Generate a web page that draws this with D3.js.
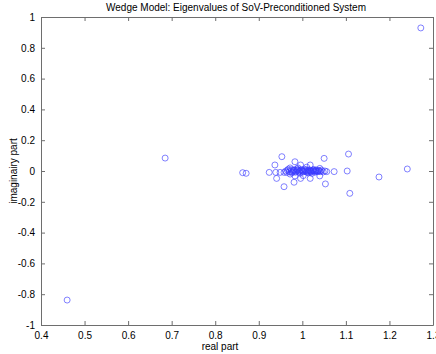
<!DOCTYPE html>
<html>
<head>
<meta charset="utf-8">
<script src="https://cdn.jsdelivr.net/npm/d3@7"></script>
<style>
  body { margin: 0; background: #fff; }
  text { font-family: "Liberation Sans", Arial, sans-serif; }
</style>
</head>
<body>
<div id="chart"></div>
<script>
// Eigenvalues (real, imag)
const realPart = [1.272, 0.460, 0.685, 0.863, 0.871,
  1.106, 1.073, 1.103, 1.176, 1.241, 1.109,
  0.953, 0.937, 0.924, 0.939, 0.949, 0.958, 0.941, 0.958,
  0.983, 0.981, 0.996, 1.018, 0.996, 1.018, 1.050, 1.053,
  1.040, 1.040, 1.056, 0.972, 0.972, 0.983, 1.002, 1.010,
  0.966, 0.970, 0.975, 0.978, 0.982, 0.986, 0.990, 0.993, 0.997,
  1.000, 1.003, 1.006, 1.009, 1.012, 1.015, 1.018, 1.021, 1.024,
  1.027, 1.030, 1.033, 1.036, 1.044, 1.048, 0.968, 0.976, 0.988,
  0.995, 1.005, 1.014, 1.026, 0.962, 1.052, 0.964, 0.990, 1.022,
  0.980, 0.984, 0.988, 0.992, 0.998, 1.002, 1.008, 1.011, 1.016,
  1.020, 1.025, 1.029, 1.032, 1.035, 1.038, 1.042, 0.974, 0.979,
  0.994, 1.001, 1.013, 1.019, 1.031, 1.039];
const imagPart = [0.929, -0.838, 0.084, -0.011, -0.015,
  0.110, -0.004, 0.000, -0.039, 0.013, -0.145,
  0.093, 0.039, -0.009, -0.009, -0.009, -0.009, -0.048, -0.102,
  0.060, -0.073, 0.039, 0.039, -0.048, -0.048, 0.082, -0.084,
  0.017, -0.032, -0.004, 0.020, -0.020, -0.032, -0.030, 0.025,
  0.005, -0.005, 0.008, -0.006, 0.004, -0.004, 0.006, -0.002, 0.003,
  0.000, -0.003, 0.002, -0.004, 0.004, -0.002, 0.001, -0.003, 0.003,
  -0.001, 0.002, -0.002, 0.001, 0.006, -0.006, 0.012, -0.012, 0.014,
  -0.014, 0.012, -0.012, 0.010, 0.000, 0.000, -0.010, 0.020, -0.015,
  0.008, -0.008, 0.006, -0.007, 0.009, -0.006, 0.007, -0.009, 0.008,
  -0.007, 0.006, -0.008, 0.007, -0.005, 0.005, -0.004, -0.003, 0.002,
  0.000, 0.001, -0.001, 0.000, 0.001, -0.001];
const xTicks = [0.4, 0.5, 0.6, 0.7, 0.8, 0.9, 1, 1.1, 1.2, 1.3];
const yTicks = [-1, -0.8, -0.6, -0.4, -0.2, 0, 0.2, 0.4, 0.6, 0.8, 1];

const W = 436, H = 354;
const margin = {top: 17, right: 3, bottom: 29, left: 41};
const width = W - margin.left - margin.right;
const height = H - margin.top - margin.bottom;

const svg = d3.select('#chart').append('svg')
    .attr('width', W)
    .attr('height', H);

const g = svg.append('g')
    .attr('transform', `translate(${margin.left},${margin.top})`);

const x = d3.scaleLinear().domain([0.4, 1.3]).range([0, width]);
const y = d3.scaleLinear().domain([-1, 1]).range([height, 0]);

const axisColor = '#6e6e6e';
const fmt = d => String(+d.toFixed(1));

// Bottom and left axes with inward ticks
const xAxis = g.append('g')
    .attr('transform', `translate(0,${height})`)
    .call(d3.axisBottom(x).tickValues(xTicks).tickFormat(fmt).tickSizeInner(-4).tickSizeOuter(0).tickPadding(7));
const yAxis = g.append('g')
    .call(d3.axisLeft(y).tickValues(yTicks).tickFormat(fmt).tickSizeInner(-4).tickSizeOuter(0).tickPadding(6));
// Top and right ticks (box)
const xTop = g.append('g')
    .call(d3.axisTop(x).tickValues(xTicks).tickFormat('').tickSizeInner(-4).tickSizeOuter(0));
const yRight = g.append('g')
    .attr('transform', `translate(${width},0)`)
    .call(d3.axisRight(y).tickValues(yTicks).tickFormat('').tickSizeInner(-4).tickSizeOuter(0));

[xAxis, yAxis, xTop, yRight].forEach(a => {
    a.selectAll('path, line').attr('stroke', axisColor);
    a.selectAll('text').attr('fill', '#000').style('font-size', '10px');
});

// Points
g.selectAll('circle')
    .data(realPart.map((r, i) => ({re: r, im: imagPart[i]})))
    .enter()
    .append('circle')
    .attr('cx', d => x(d.re))
    .attr('cy', d => y(d.im))
    .attr('r', 3)
    .attr('fill', 'none')
    .attr('stroke', '#3a3aff')
    .attr('stroke-opacity', 0.8)
    .attr('stroke-width', 0.8);

// Title and labels
svg.append('text')
    .attr('x', margin.left + width / 2 - 1)
    .attr('y', 11)
    .attr('text-anchor', 'middle')
    .style('font-size', '10px')
    .text('Wedge Model: Eigenvalues of SoV-Preconditioned System');

svg.append('text')
    .attr('x', margin.left + width / 2 - 17)
    .attr('y', 350)
    .attr('text-anchor', 'middle')
    .style('font-size', '10px')
    .text('real part');

svg.append('text')
    .attr('transform', `translate(17,${margin.top + height / 2}) rotate(-90)`)
    .attr('text-anchor', 'middle')
    .style('font-size', '10px')
    .text('imaginairy part');
</script>
</body>
</html>
